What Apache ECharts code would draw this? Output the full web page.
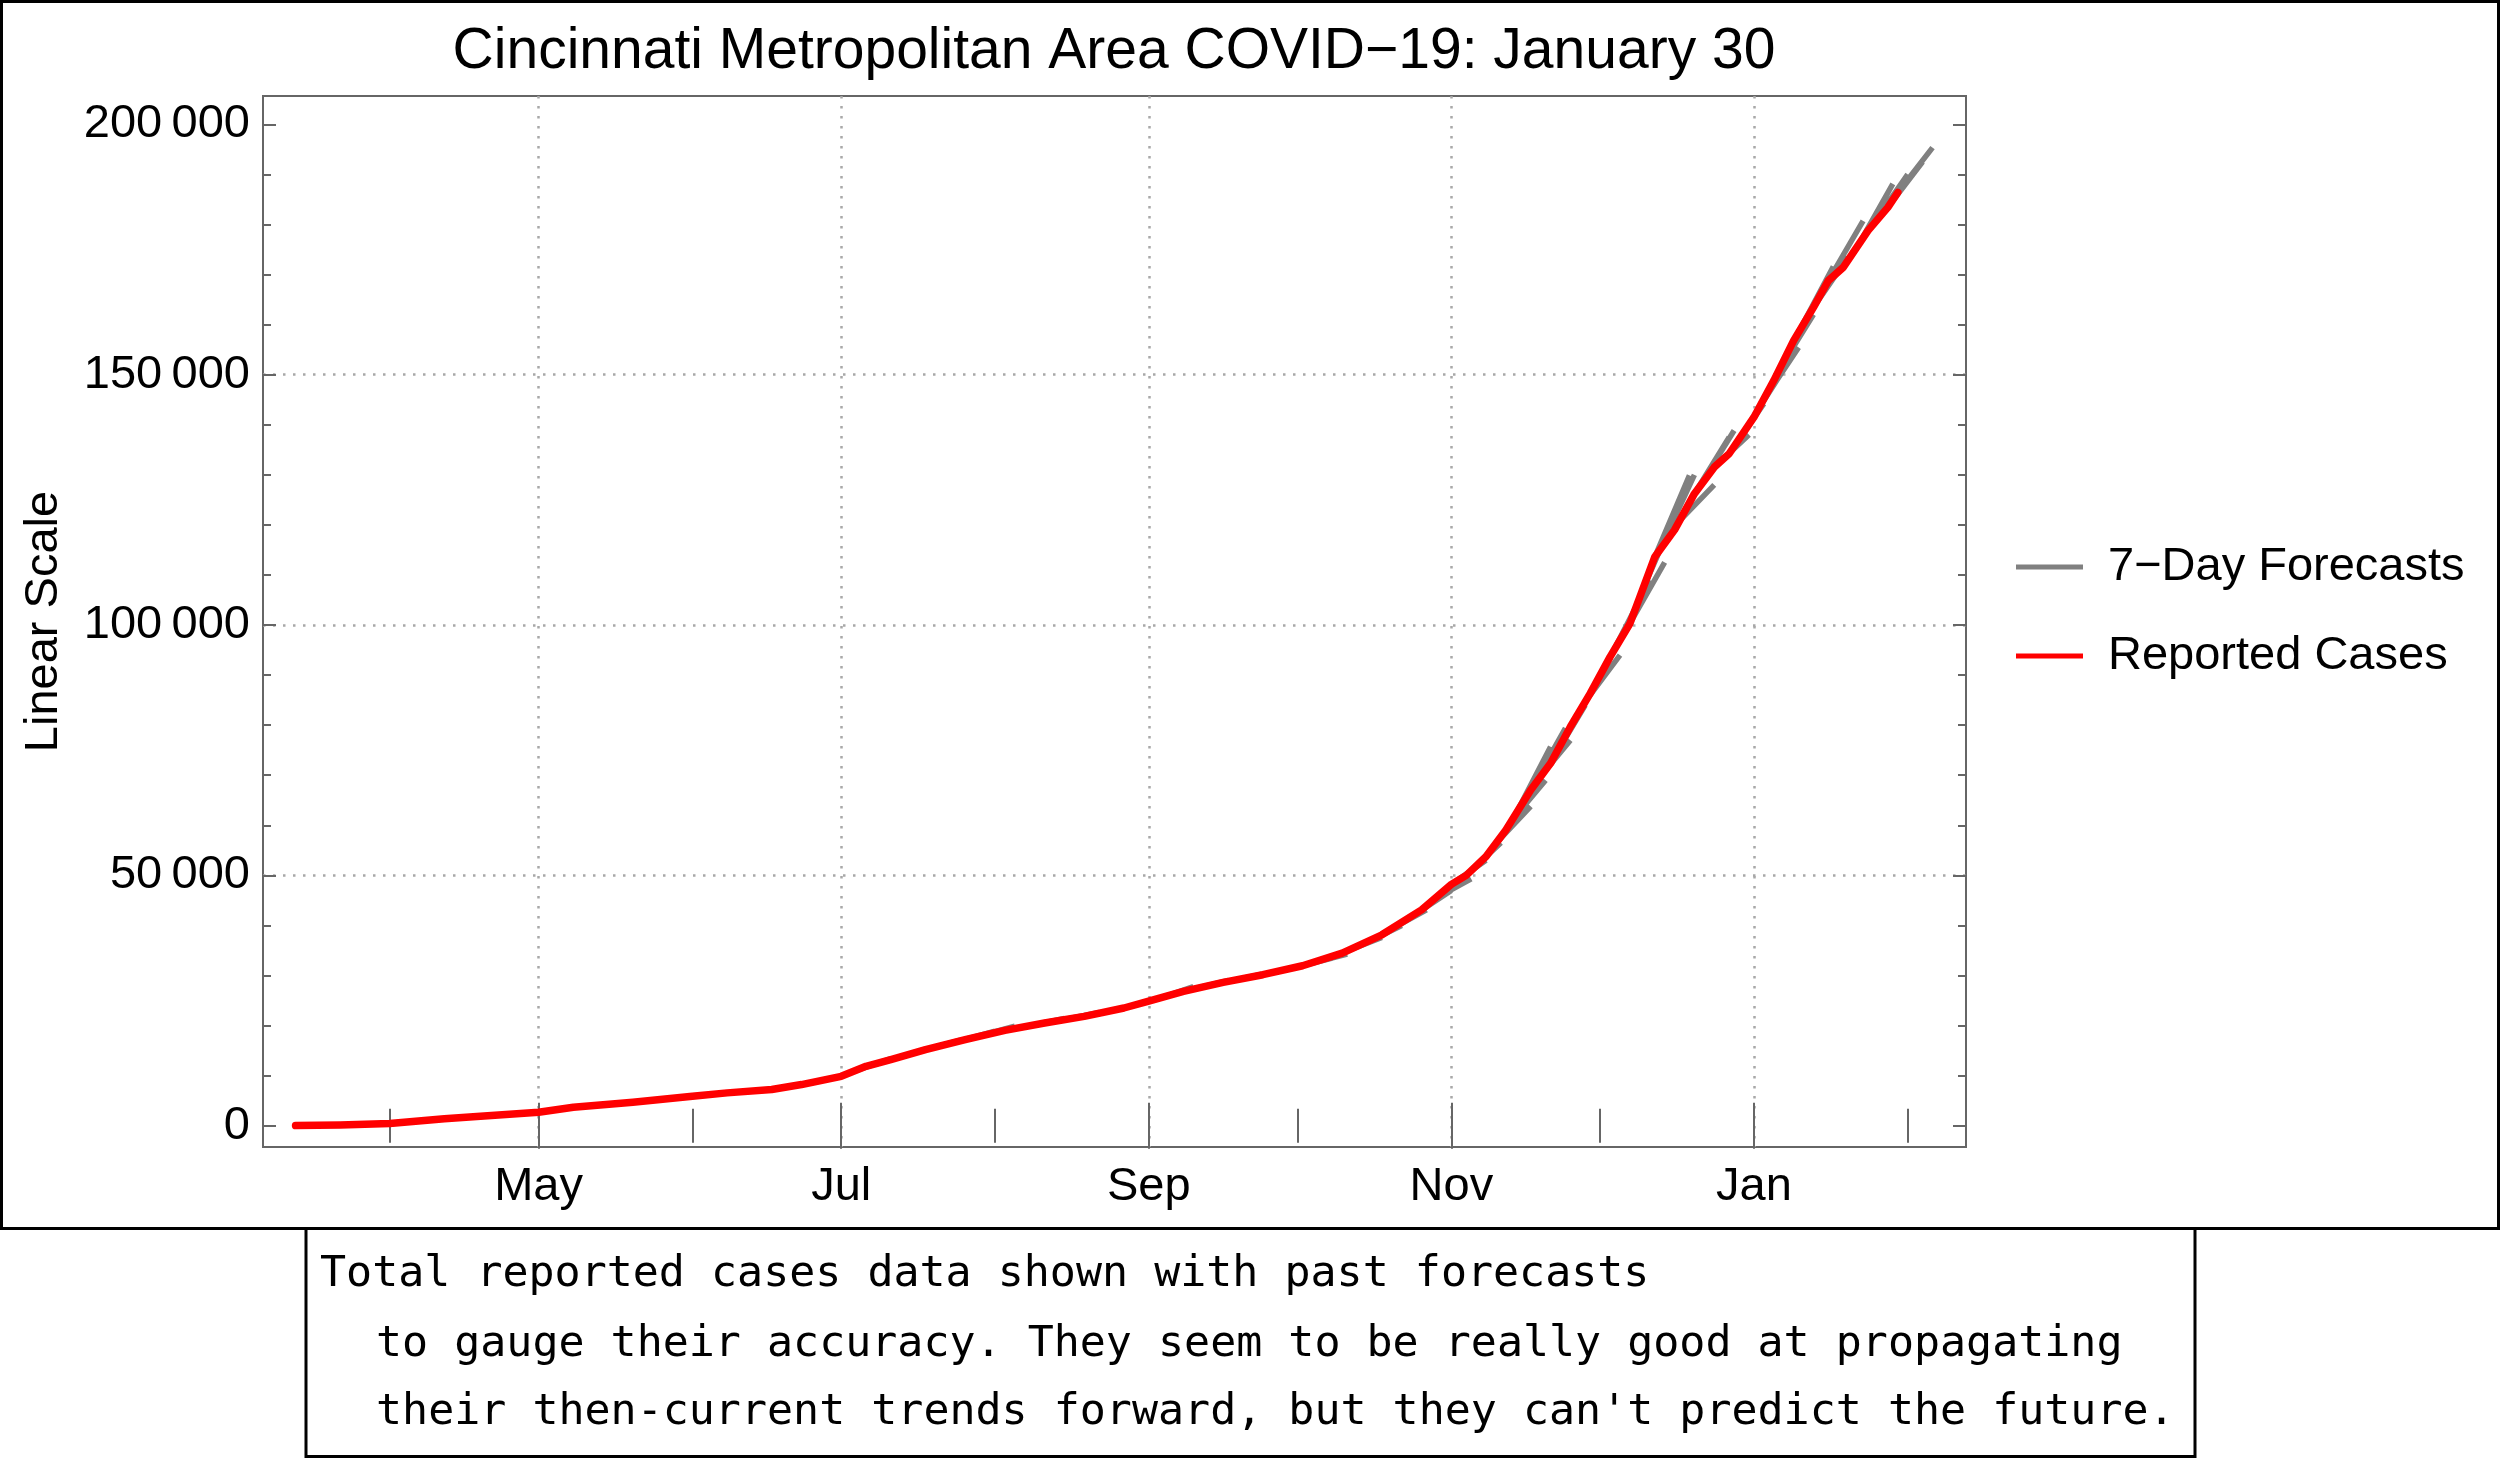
<!DOCTYPE html>
<html>
<head>
<meta charset="utf-8">
<title>Cincinnati Metropolitan Area COVID-19</title>
<script src="https://cdn.jsdelivr.net/npm/echarts@6.0.0/dist/echarts.min.js"></script>
<style>
  html, body { margin: 0; padding: 0; background: #fff; }
  #container { width: 2500px; height: 1459px; }
</style>
</head>
<body>
<div id="container"></div>
<script>
// reported total cases
const reportedDates = [
  "2020-03-13", "2020-03-22", "2020-04-01", "2020-04-12", "2020-04-20", "2020-05-01",
  "2020-05-08", "2020-05-20", "2020-06-01", "2020-06-08", "2020-06-17", "2020-06-23",
  "2020-07-01", "2020-07-06", "2020-07-11", "2020-07-18", "2020-07-26", "2020-08-03",
  "2020-08-11", "2020-08-19", "2020-08-27", "2020-09-01", "2020-09-08", "2020-09-16",
  "2020-09-24", "2020-10-02", "2020-10-10", "2020-10-18", "2020-10-26", "2020-11-01",
  "2020-11-04", "2020-11-08", "2020-11-12", "2020-11-17", "2020-11-21", "2020-11-25",
  "2020-11-29", "2020-12-03", "2020-12-07", "2020-12-09", "2020-12-12", "2020-12-16",
  "2020-12-20", "2020-12-24", "2020-12-27", "2021-01-01", "2021-01-05", "2021-01-09",
  "2021-01-13", "2021-01-16", "2021-01-19", "2021-01-24", "2021-01-28", "2021-01-30"
];
const reportedCases = [
  20, 150, 440, 1380, 1950, 2690,
  3690, 4690, 5880, 6560, 7220, 8220,
  9870, 11870, 13200, 15200, 17190, 19050,
  20520, 21840, 23510, 24900, 26830, 28620,
  30160, 31950, 34480, 38130, 43120, 48200,
  50000, 53750, 59070, 67050, 72370, 79680,
  86340, 93640, 100300, 105600, 113580, 119000,
  126230, 131530, 134200, 141500, 148820, 156800,
  163440, 168770, 171430, 178750, 183400, 186380
];

// 7-day forecasts: start date, value at start, value predicted 7 days later
const forecastDays = 7;
const forecastStart = [
  "2020-07-04", "2020-07-11", "2020-07-18", "2020-07-25", "2020-07-29", "2020-08-08",
  "2020-08-15", "2020-08-22", "2020-08-29", "2020-09-03", "2020-09-10", "2020-09-17",
  "2020-09-24", "2020-10-01", "2020-10-04", "2020-10-11", "2020-10-15", "2020-10-20",
  "2020-10-25", "2020-10-29", "2020-11-01", "2020-11-04", "2020-11-07", "2020-11-10",
  "2020-11-13", "2020-11-14", "2020-11-17", "2020-11-18", "2020-11-21", "2020-11-24",
  "2020-11-28", "2020-12-01", "2020-12-04", "2020-12-07", "2020-12-10", "2020-12-12",
  "2020-12-13", "2020-12-17", "2020-12-20", "2020-12-21", "2020-12-24", "2020-12-27",
  "2020-12-30", "2021-01-03", "2021-01-06", "2021-01-10", "2021-01-13", "2021-01-16",
  "2021-01-19", "2021-01-22", "2021-01-25", "2021-01-28", "2021-01-30"
];
const forecastFrom = [
  11000, 13200, 15200, 17000, 18000, 20000,
  21200, 22400, 24000, 25400, 27300, 28800,
  30160, 31700, 32500, 34900, 36600, 39300,
  42400, 45500, 48200, 50000, 52600, 56400,
  60700, 62300, 67050, 68600, 72400, 78000,
  84700, 90000, 95500, 100300, 108000, 113580,
  115000, 120800, 126230, 127600, 131530, 134200,
  138600, 145000, 150800, 158500, 163440, 168770,
  171430, 175800, 180000, 183400, 186380
];
const forecastTo = [
  13400, 15300, 17100, 18900, 19900, 21400,
  22600, 24000, 26100, 27800, 29000, 30300,
  31700, 33500, 34300, 37600, 40000, 43100,
  47000, 49300, 53000, 56500, 61000, 63800,
  69000, 75700, 79400, 77000, 84000, 89500,
  94000, 102500, 109000, 112500, 124000, 129870,
  130000, 128000, 137500, 138850, 138000, 144200,
  149500, 155450, 162000, 171600, 173500, 180700,
  182000, 188100, 190000, 192500, 195350
];

const majorMonths = ["2020-05-01", "2020-07-01", "2020-09-01", "2020-11-01", "2021-01-01"];
const minorMonths = ["2020-04-01", "2020-06-01", "2020-08-01", "2020-10-01", "2020-12-01", "2021-02-01"];
const monthNames = ["Jan", "Feb", "Mar", "Apr", "May", "Jun", "Jul", "Aug", "Sep", "Oct", "Nov", "Dec"];
const yMajor = [0, 50000, 100000, 150000, 200000];
const yMinor = [10000, 20000, 30000, 40000, 60000, 70000, 80000, 90000,
  110000, 120000, 130000, 140000, 160000, 170000, 180000, 190000];
const yGrid = [50000, 100000, 150000];

const noteLines = [
  "Total reported cases data shown with past forecasts",
  "to gauge their accuracy. They seem to be really good at propagating",
  "their then-current trends forward, but they can't predict the future."
];

const xMinDate = "2020-03-06 10:30";
const xMaxDate = "2021-02-12 18:00";
const yMin = -4250;
const yMax = 205650;
const frameColor = "#666666";
const gridColor = "#a8a8a8";
const sans = "'Liberation Sans', Arial, sans-serif";
const mono = "43.3px 'DejaVu Sans Mono', monospace";

// "yyyy-mm-dd[ hh:mm]" -> local timestamp
function ts(s, addDays) {
  let parts = s.split(" ");
  let p = parts[0].split("-").map(Number);
  let t = (parts[1] || "0:0").split(":").map(Number);
  return new Date(p[0], p[1] - 1, p[2] + (addDays || 0), t[0], t[1]).getTime();
}

const xMin = ts(xMinDate);
const xMax = ts(xMaxDate);

let reportedData = reportedDates.map((d, i) => [ts(d), reportedCases[i]]);
let forecastData = [];
for (let i = 0; i < forecastStart.length; i++) {
  let end = ts(forecastStart[i], forecastDays);
  forecastData.push([ts(forecastStart[i]), forecastFrom[i]]);
  forecastData.push([end, forecastTo[i]]);
  forecastData.push([end, "-"]);
}

function xAxisDef(position, ticks, len, extra) {
  return Object.assign({
    type: "value",
    position: position,
    min: xMin,
    max: xMax,
    axisLine: { show: false },
    axisTick: { show: true, inside: true, length: len, customValues: ticks.map((d) => ts(d)),
      lineStyle: { color: frameColor, width: 2 } },
    axisLabel: { show: false },
    splitLine: { show: false },
    minorTick: { show: false },
    minorSplitLine: { show: false },
  }, extra || {});
}

function yAxisDef(position, ticks, len, extra) {
  return Object.assign({
    type: "value",
    position: position,
    min: yMin,
    max: yMax,
    axisLine: { show: false },
    axisTick: { show: len > 0, inside: true, length: len, customValues: ticks,
      lineStyle: { color: frameColor, width: 2 } },
    axisLabel: { show: false },
    splitLine: { show: false },
  }, extra || {});
}

let dom = document.getElementById("container");
let myChart = echarts.init(dom, null, { renderer: "canvas" });

let option = {
  animation: false,
  backgroundColor: "#ffffff",
  title: {
    text: "Cincinnati Metropolitan Area COVID\u221219: January 30",
    left: 1114,
    top: 24,
    padding: 0,
    textAlign: "center",
    textStyle: { fontFamily: sans, fontSize: 57, fontWeight: "normal", color: "#000", lineHeight: 57 },
  },
  legend: {
    data: ["7\u2212Day Forecasts", "Reported Cases"],
    orient: "vertical",
    left: 2016,
    top: 542,
    padding: 0,
    icon: "rect",
    itemWidth: 67,
    itemHeight: 5,
    itemGap: 39,
    selectedMode: false,
    textStyle: { fontFamily: sans, fontSize: 47, color: "#000", lineHeight: 50, padding: [0, 0, 0, 20] },
  },
  grid: {
    left: 263,
    top: 96,
    width: 1703,
    height: 1051,
    show: true,
    borderColor: frameColor,
    borderWidth: 2,
    outerBoundsMode: "none",
  },
  xAxis: [
    xAxisDef("bottom", majorMonths, 23, {
      axisLabel: {
        show: true,
        customValues: majorMonths.map((d) => ts(d)),
        margin: 17,
        fontFamily: sans,
        fontSize: 47,
        color: "#000",
        formatter: function (v) {
          return monthNames[new Date(v).getMonth()];
        },
      },
      splitLine: { show: true, lineStyle: { color: gridColor, width: 2.5, type: [2.5, 7.5] } },
    }),
    xAxisDef("bottom", minorMonths, 17),
    xAxisDef("top", majorMonths, 23),
    xAxisDef("top", minorMonths, 17),
  ],
  yAxis: [
    yAxisDef("left", yMajor, 13, {
      name: "Linear Scale",
      nameLocation: "middle",
      nameGap: 195,
      nameTextStyle: { fontFamily: sans, fontSize: 47, color: "#000" },
      axisLabel: {
        show: true,
        customValues: yMajor,
        margin: 13,
        fontFamily: sans,
        fontSize: 47,
        color: "#000",
        formatter: function (v) {
          return String(v).replace(/\B(?=(\d{3})+(?!\d))/g, "\u2009");
        },
      },
    }),
    yAxisDef("left", yMinor, 8),
    yAxisDef("right", yMajor, 13),
    yAxisDef("right", yMinor, 8),
    yAxisDef("left", yGrid, 0, {
      splitLine: { show: true, lineStyle: { color: gridColor, width: 2.5, type: [2.5, 7.5] } },
    }),
  ],
  series: [
    {
      name: "7\u2212Day Forecasts",
      type: "line",
      xAxisIndex: 0,
      yAxisIndex: 0,
      showSymbol: false,
      connectNulls: false,
      color: "#808080",
      lineStyle: { color: "#808080", width: 5.5 },
      data: forecastData,
      z: 2,
    },
    {
      name: "Reported Cases",
      type: "line",
      xAxisIndex: 0,
      yAxisIndex: 0,
      showSymbol: false,
      color: "#ff0000",
      lineStyle: { color: "#ff0000", width: 7.5, join: "round", cap: "round" },
      data: reportedData,
      z: 3,
    },
  ],
  graphic: [
    {
      type: "rect",
      shape: { x: 1.5, y: 1.5, width: 2497, height: 1227 },
      style: { fill: null, stroke: "#000", lineWidth: 3 },
      silent: true,
    },
    {
      type: "rect",
      shape: { x: 306, y: 1228.5, width: 1889, height: 228 },
      style: { fill: null, stroke: "#000", lineWidth: 3 },
      silent: true,
    },
    {
      type: "text",
      x: 320,
      y: 1275,
      style: { text: noteLines[0], font: mono, fill: "#000", verticalAlign: "middle" },
    },
    {
      type: "text",
      x: 376,
      y: 1345,
      style: { text: noteLines[1], font: mono, fill: "#000", verticalAlign: "middle" },
    },
    {
      type: "text",
      x: 376,
      y: 1413,
      style: { text: noteLines[2], font: mono, fill: "#000", verticalAlign: "middle" },
    },
  ],
};

if (option && typeof option === "object") {
  myChart.setOption(option);
}

window.addEventListener("resize", myChart.resize);
</script>
</body>
</html>
